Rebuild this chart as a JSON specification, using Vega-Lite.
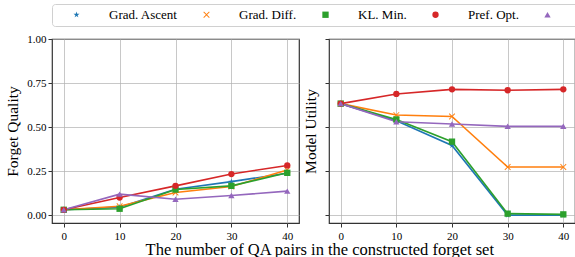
{
  "$schema": "https://vega.github.io/schema/vega-lite/v6.json",
  "padding": {"left": 5, "top": 3, "right": 2, "bottom": 0},
  "background": "white",
  "datasets": {
    "vals": [
      {"panel": "fq", "method": "Grad. Ascent", "x": 0, "y": 0.03},
      {"panel": "fq", "method": "Grad. Ascent", "x": 10, "y": 0.045},
      {"panel": "fq", "method": "Grad. Ascent", "x": 20, "y": 0.147},
      {"panel": "fq", "method": "Grad. Ascent", "x": 30, "y": 0.19},
      {"panel": "fq", "method": "Grad. Ascent", "x": 40, "y": 0.238},
      {"panel": "fq", "method": "Grad. Diff.", "x": 0, "y": 0.03},
      {"panel": "fq", "method": "Grad. Diff.", "x": 10, "y": 0.05},
      {"panel": "fq", "method": "Grad. Diff.", "x": 20, "y": 0.128},
      {"panel": "fq", "method": "Grad. Diff.", "x": 30, "y": 0.162},
      {"panel": "fq", "method": "Grad. Diff.", "x": 40, "y": 0.256},
      {"panel": "fq", "method": "KL. Min.", "x": 0, "y": 0.03},
      {"panel": "fq", "method": "KL. Min.", "x": 10, "y": 0.036},
      {"panel": "fq", "method": "KL. Min.", "x": 20, "y": 0.145},
      {"panel": "fq", "method": "KL. Min.", "x": 30, "y": 0.166},
      {"panel": "fq", "method": "KL. Min.", "x": 40, "y": 0.24},
      {"panel": "fq", "method": "Pref. Opt.", "x": 0, "y": 0.03},
      {"panel": "fq", "method": "Pref. Opt.", "x": 10, "y": 0.10},
      {"panel": "fq", "method": "Pref. Opt.", "x": 20, "y": 0.166},
      {"panel": "fq", "method": "Pref. Opt.", "x": 30, "y": 0.233},
      {"panel": "fq", "method": "Pref. Opt.", "x": 40, "y": 0.282},
      {"panel": "fq", "method": "NPO-GD", "x": 0, "y": 0.03},
      {"panel": "fq", "method": "NPO-GD", "x": 10, "y": 0.119},
      {"panel": "fq", "method": "NPO-GD", "x": 20, "y": 0.09},
      {"panel": "fq", "method": "NPO-GD", "x": 30, "y": 0.111},
      {"panel": "fq", "method": "NPO-GD", "x": 40, "y": 0.136},
      {"panel": "mu", "method": "Grad. Ascent", "x": 0, "y": 0.633},
      {"panel": "mu", "method": "Grad. Ascent", "x": 10, "y": 0.536},
      {"panel": "mu", "method": "Grad. Ascent", "x": 20, "y": 0.395},
      {"panel": "mu", "method": "Grad. Ascent", "x": 30, "y": 0.0},
      {"panel": "mu", "method": "Grad. Ascent", "x": 40, "y": 0.0},
      {"panel": "mu", "method": "Grad. Diff.", "x": 0, "y": 0.633},
      {"panel": "mu", "method": "Grad. Diff.", "x": 10, "y": 0.568},
      {"panel": "mu", "method": "Grad. Diff.", "x": 20, "y": 0.56},
      {"panel": "mu", "method": "Grad. Diff.", "x": 30, "y": 0.273},
      {"panel": "mu", "method": "Grad. Diff.", "x": 40, "y": 0.273},
      {"panel": "mu", "method": "KL. Min.", "x": 0, "y": 0.633},
      {"panel": "mu", "method": "KL. Min.", "x": 10, "y": 0.543},
      {"panel": "mu", "method": "KL. Min.", "x": 20, "y": 0.417},
      {"panel": "mu", "method": "KL. Min.", "x": 30, "y": 0.008},
      {"panel": "mu", "method": "KL. Min.", "x": 40, "y": 0.004},
      {"panel": "mu", "method": "Pref. Opt.", "x": 0, "y": 0.633},
      {"panel": "mu", "method": "Pref. Opt.", "x": 10, "y": 0.688},
      {"panel": "mu", "method": "Pref. Opt.", "x": 20, "y": 0.714},
      {"panel": "mu", "method": "Pref. Opt.", "x": 30, "y": 0.709},
      {"panel": "mu", "method": "Pref. Opt.", "x": 40, "y": 0.714},
      {"panel": "mu", "method": "NPO-GD", "x": 0, "y": 0.633},
      {"panel": "mu", "method": "NPO-GD", "x": 10, "y": 0.53},
      {"panel": "mu", "method": "NPO-GD", "x": 20, "y": 0.517},
      {"panel": "mu", "method": "NPO-GD", "x": 30, "y": 0.504},
      {"panel": "mu", "method": "NPO-GD", "x": 40, "y": 0.504}
    ]
  },
  "data": {"name": "vals"},
  "title": {"text": "The number of QA pairs in the constructed forget set", "orient": "bottom", "anchor": "middle", "font": "Liberation Serif", "fontSize": 16.5, "fontWeight": "normal", "color": "black", "offset": 0},
  "spacing": 30,
  "bounds": "flush",
  "resolve": {"scale": {"color": "shared", "shape": "shared"}, "legend": {"color": "shared", "shape": "shared"}},
  "config": {
    "font": "Liberation Serif",
    "view": {"stroke": "#333", "strokeWidth": 1.2},
    "axis": {"labelFont": "Liberation Serif", "labelFontSize": 11, "labelColor": "black", "titleFont": "Liberation Serif", "titleFontSize": 15.5, "titleFontWeight": "normal", "titleColor": "black", "domain": false, "gridColor": "#b0b0b0", "gridOpacity": 0.7, "gridWidth": 1, "tickColor": "#333", "tickSize": 4, "tickWidth": 1,
      "encode": {"labels": {"update": {"font": {"value": "Liberation Serif"}, "fontWeight": {"value": "normal"}}}}},
    "legend": {"title": null, "orient": "top", "offset": 6, "direction": "horizontal", "columns": 5, "columnPadding": 8, "symbolSize": 40, "symbolOffset": 14, "labelOffset": 26, "strokeColor": "#d0d0d0", "cornerRadius": 3, "padding": 4, "labelFont": "Liberation Serif", "labelFontSize": 13, "labelColor": "black", "labelFontWeight": "normal", "symbolStrokeWidth": 0}
  },
  "hconcat": [
    {
      "width": 247, "height": 184,
      "transform": [{"filter": "datum.panel == 'fq'"}],
      "encoding": {
        "x": {"field": "x", "type": "quantitative", "scale": {"domain": [-2.1, 42.1], "nice": false, "zero": false}, "axis": {"values": [0, 10, 20, 30, 40], "title": null, "labelPadding": 3}},
        "y": {"field": "y", "type": "quantitative", "scale": {"domain": [-0.045, 1.0], "nice": false, "zero": false}, "axis": {"values": [0, 0.25, 0.5, 0.75, 1.0], "format": ".2f", "title": "Forget  Quality", "titlePadding": 6}},
        "color": {"field": "method", "type": "nominal", "scale": {"domain": ["Grad. Ascent", "Grad. Diff.", "KL. Min.", "Pref. Opt.", "NPO-GD"], "range": ["#1f77b4", "#ff7f0e", "#2ca02c", "#d62728", "#9467bd"]},
          "legend": {"encode": {"labels": {"update": {"font": {"value": "Liberation Serif"}, "fontWeight": {"value": "normal"}}}, "symbols": {"update": {"shape": {"signal": "datum.value === 'Grad. Ascent' ? 'M-5.2,-0.11H5.2V0.11H-5.2Z M0,-1L0.225,-0.31L0.95,-0.31L0.36,0.12L0.59,0.81L0,0.38L-0.59,0.81L-0.36,0.12L-0.95,-0.31L-0.225,-0.31Z' : datum.value === 'Grad. Diff.' ? 'M-5.2,-0.11H5.2V0.11H-5.2Z M-0.85,-0.7L-0.7,-0.85L0,-0.15L0.7,-0.85L0.85,-0.7L0.15,0L0.85,0.7L0.7,0.85L0,0.15L-0.7,0.85L-0.85,0.7L-0.15,0Z' : datum.value === 'KL. Min.' ? 'M-5.2,-0.11H5.2V0.11H-5.2Z M-0.85,-0.85H0.85V0.85H-0.85Z' : datum.value === 'Pref. Opt.' ? 'M-5.2,-0.11H5.2V0.11H-5.2Z M0.9,0A0.9,0.9,0,1,1,-0.9,0A0.9,0.9,0,1,1,0.9,0Z' : 'M-5.2,-0.11H5.2V0.11H-5.2Z M0,-0.95L0.95,0.75H-0.95Z'"}}}}}}
      },
      "layer": [
        {"mark": {"type": "line", "strokeWidth": 1.6}},
        {"mark": {"type": "point", "filled": true, "size": 40, "opacity": 1},
         "encoding": {"shape": {"field": "method", "type": "nominal", "scale": {"domain": ["Grad. Ascent", "Grad. Diff.", "KL. Min.", "Pref. Opt.", "NPO-GD"], "range": ["M0,-1L0.225,-0.31L0.95,-0.31L0.36,0.12L0.59,0.81L0,0.38L-0.59,0.81L-0.36,0.12L-0.95,-0.31L-0.225,-0.31Z", "M-1,-0.8L-0.8,-1L0,-0.2L0.8,-1L1,-0.8L0.2,0L1,0.8L0.8,1L0,0.2L-0.8,1L-1,0.8L-0.2,0Z", "square", "circle", "triangle-up"]}, "legend": null}}}
      ]
    },
    {
      "width": 246, "height": 184,
      "transform": [{"filter": "datum.panel == 'mu'"}],
      "encoding": {
        "x": {"field": "x", "type": "quantitative", "scale": {"domain": [-2.1, 42.1], "nice": false, "zero": false}, "axis": {"values": [0, 10, 20, 30, 40], "title": null, "labelPadding": 3}},
        "y": {"field": "y", "type": "quantitative", "scale": {"domain": [-0.045, 1.0], "nice": false, "zero": false}, "axis": {"values": [0, 0.25, 0.5, 0.75, 1.0], "labels": false, "title": "Model  Utility", "titlePadding": 6}},
        "color": {"field": "method", "type": "nominal", "scale": {"domain": ["Grad. Ascent", "Grad. Diff.", "KL. Min.", "Pref. Opt.", "NPO-GD"], "range": ["#1f77b4", "#ff7f0e", "#2ca02c", "#d62728", "#9467bd"]}}
      },
      "layer": [
        {"mark": {"type": "line", "strokeWidth": 1.6}},
        {"mark": {"type": "point", "filled": true, "size": 40, "opacity": 1},
         "encoding": {"shape": {"field": "method", "type": "nominal", "scale": {"domain": ["Grad. Ascent", "Grad. Diff.", "KL. Min.", "Pref. Opt.", "NPO-GD"], "range": ["M0,-1L0.225,-0.31L0.95,-0.31L0.36,0.12L0.59,0.81L0,0.38L-0.59,0.81L-0.36,0.12L-0.95,-0.31L-0.225,-0.31Z", "M-1,-0.8L-0.8,-1L0,-0.2L0.8,-1L1,-0.8L0.2,0L1,0.8L0.8,1L0,0.2L-0.8,1L-1,0.8L-0.2,0Z", "square", "circle", "triangle-up"]}, "legend": null}}}
      ]
    }
  ]
}
